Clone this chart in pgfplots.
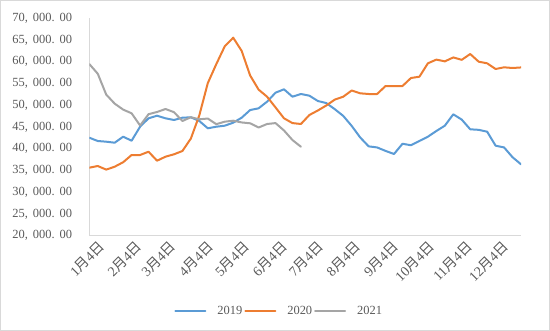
\documentclass[border=0pt]{standalone}
\usepackage{pgfplots}
\pgfplotsset{compat=1.18}
\usepackage{fontspec}
\setmainfont{Liberation Serif}
\newfontfamily\cjk{Noto Sans CJK SC}
\definecolor{c19}{HTML}{5B9BD5}
\definecolor{c20}{HTML}{ED7D31}
\definecolor{c21}{HTML}{A5A5A5}
\definecolor{axc}{HTML}{D9D9D9}
\definecolor{txtc}{HTML}{595959}
\newcommand{\lbl}{\fontsize{12.5}{14}\selectfont}
\newcommand{\xlbl}{\fontsize{14}{16}\selectfont}
\begin{document}
\begin{tikzpicture}
\useasboundingbox (0,0) rectangle (550bp,331bp);
\draw[draw=axc, line width=0.8bp] (0.5bp,0.5bp) rectangle (549.5bp,330.5bp);
\begin{axis}[
  at={(89.3bp,95.3bp)}, anchor=south west,
  scale only axis, width=431.7bp, height=217.4bp,
  xmin=0, xmax=357, ymin=20000, ymax=70000,
  ytick={20000,25000,...,70000},
  scaled y ticks=false,
  yticklabel style={/pgf/number format/fixed, /pgf/number format/fixed zerofill, /pgf/number format/precision=2,
     /pgf/number format/1000 sep={,\hspace{0.4em}}, /pgf/number format/set decimal separator={.\hspace{0.4em}}, /pgf/number format/assume math mode=true},
  xtick={0,31,59,90,120,151,181,212,243,273,304,334},
  xticklabels={1{\cjk 月}4{\cjk 日},2{\cjk 月}4{\cjk 日},3{\cjk 月}4{\cjk 日},4{\cjk 月}4{\cjk 日},5{\cjk 月}4{\cjk 日},6{\cjk 月}4{\cjk 日},7{\cjk 月}4{\cjk 日},8{\cjk 月}4{\cjk 日},9{\cjk 月}4{\cjk 日},10{\cjk 月}4{\cjk 日},11{\cjk 月}4{\cjk 日},12{\cjk 月}4{\cjk 日}},
  tick label style={font=\lbl, text=txtc},
  xticklabel style={font=\xlbl, rotate=45, anchor=east, inner sep=0pt, xshift=3bp, yshift=-15bp},
  yticklabel style={anchor=east, inner sep=0pt, xshift=-17bp},
  major tick length=0pt,
  axis x line*=bottom, axis y line*=left,
  axis line style={draw=axc, line width=0.8bp, -},
  legend style={at={(0.44,-0.345)}, anchor=center, draw=none, fill=none,
     font=\lbl, text=txtc, legend columns=3,
     /tikz/every odd column/.append style={column sep=9bp}},
  legend image code/.code={\draw[#1] (0bp,0bp) -- (30bp,0bp);},
  every axis plot/.append style={line width=2bp, line join=round, line cap=round},
]
\addplot[c19] table {
0 42540
7 41780
14 41620
21 41390
28 42770
35 41850
42 45070
49 47000
56 47600
63 47000
70 46610
77 47140
84 47230
91 46380
98 44700
105 45070
112 45300
119 45990
126 47140
133 48900
140 49300
147 50820
154 52890
161 53670
168 51970
175 52590
182 52200
189 50980
196 50500
203 49100
210 47550
217 45250
224 42600
231 40550
238 40300
245 39500
252 38790
259 41150
266 40800
273 41800
280 42770
287 44080
294 45300
301 47920
308 46700
315 44470
322 44350
329 43920
336 40700
343 40300
350 38050
357 36420
};
\addlegendentry{2019}
\addplot[c20] table {
0 35640
7 36030
14 35200
21 35870
28 36900
35 38560
42 38560
49 39320
56 37250
63 38170
70 38720
77 39480
84 42350
91 47700
98 55100
105 59450
112 63550
119 65540
126 62500
133 56850
140 53600
147 51970
154 49500
161 47000
168 45900
175 45690
182 47760
189 48800
196 49950
203 51300
210 51970
217 53400
224 52750
231 52590
238 52590
245 54430
252 54430
259 54430
266 56270
273 56570
280 59650
287 60500
294 60100
301 61000
308 60450
315 61790
322 60020
329 59650
336 58340
343 58730
350 58570
357 58700
};
\addlegendentry{2020}
\addplot[c21] table {
0 59490
7 57250
14 52450
21 50370
28 49000
35 48150
42 45350
49 47950
56 48450
63 49140
70 48420
77 46380
84 47250
91 46770
98 46950
105 45650
112 46220
119 46450
126 46050
133 45850
140 44880
147 45690
154 45900
161 44200
168 42000
175 40460
};
\addlegendentry{2021}
\end{axis}
\end{tikzpicture}
\end{document}
